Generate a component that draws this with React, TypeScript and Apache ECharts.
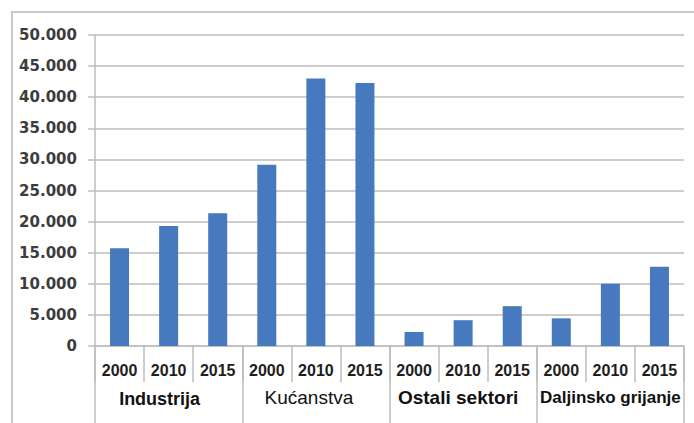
import React, { useEffect, useRef } from "react";
import * as echarts from "echarts";

const years = ["2000", "2010", "2015", "2000", "2010", "2015", "2000", "2010", "2015", "2000", "2010", "2015"];
const groups = ["Industrija", "Kućanstva", "Ostali sektori", "Daljinsko grijanje"];
const values = [15700, 19300, 21350, 29150, 43000, 42300, 2250, 4150, 6400, 4450, 10000, 12750];
const yTicks = { min: 0, max: 50000, interval: 5000 };

export default function App() {
  const ref = useRef<HTMLDivElement>(null);
  useEffect(() => {
    if (!ref.current) return;
    const chart = echarts.init(ref.current, undefined, { renderer: "svg" });
    const grey = "#bdbdbd";
    chart.setOption({
      animation: false,
      backgroundColor: "#ffffff",
      grid: { left: 95, right: 10, top: 35, bottom: 77, containLabel: false },
      graphic: [
        {
          type: "rect",
          shape: { x: 12, y: 12, width: 700, height: 430 },
          style: { fill: "none", stroke: "#c8c8c8", lineWidth: 2 },
          silent: true,
        },
      ],
      xAxis: [
        {
          type: "category",
          data: years,
          position: "bottom",
          axisLine: { show: true, lineStyle: { color: grey, width: 1.5 } },
          axisTick: { show: true, interval: 0, length: 36, lineStyle: { color: grey, width: 1.5 } },
          axisLabel: {
            interval: 0,
            margin: 16,
            fontFamily: "Liberation Sans",
            fontWeight: "bold",
            fontSize: 16,
            lineHeight: 16,
            color: "#1e1e1e",
          },
        },
        {
          type: "category",
          data: groups,
          position: "bottom",
          axisLine: { show: false },
          axisTick: { show: true, interval: 0, length: 78, lineStyle: { color: grey, width: 1.5 } },
          axisLabel: {
            interval: 0,
            margin: 42,
            fontFamily: "Liberation Sans",
            lineHeight: 19,
            color: "#111111",
            formatter: (v: string) => {
              if (v === "Industrija") return "{i|" + v + "}";
              if (v === "Kućanstva") return "{r|" + v + "}";
              if (v === "Ostali sektori") return "{o|" + v + "}";
              return "{d|" + v + "}";
            },
            rich: {
              i: { fontFamily: "Liberation Sans", fontSize: 18, fontWeight: "bold", color: "#111111", padding: [3, 18, 0, 0] },
              r: { fontFamily: "Liberation Sans", fontSize: 19, fontWeight: "normal", color: "#111111", padding: [0, 14, 0, 0] },
              o: { fontFamily: "Liberation Sans", fontSize: 19, fontWeight: "bold", color: "#111111", padding: [0, 10, 0, 0] },
              d: { fontFamily: "Liberation Sans", fontSize: 17, fontWeight: "bold", color: "#111111" },
            },
          },
        },
      ],
      yAxis: {
        type: "value",
        min: yTicks.min,
        max: yTicks.max,
        interval: yTicks.interval,
        axisLine: { show: true, lineStyle: { color: grey, width: 1.5 } },
        axisTick: { show: true, length: 7, lineStyle: { color: grey, width: 1.5 } },
        splitLine: { show: true, lineStyle: { color: grey, width: 1.5 } },
        axisLabel: {
          margin: 18,
          fontFamily: "DejaVu Sans",
          fontWeight: "bold",
          fontSize: 15,
          color: "#3c3c3c",
          formatter: (v: number) => (v === 0 ? "0" : (v / 1000).toFixed(3)),
        },
      },
      series: [
        {
          type: "bar",
          xAxisIndex: 0,
          data: values,
          barWidth: 19,
          itemStyle: { color: "#4679bd" },
        },
      ],
    });
    return () => chart.dispose();
  }, []);
  return (
    <div
      ref={ref}
      style={{ position: "fixed", left: 0, top: 0, width: 694, height: 423, background: "#fff" }}
    />
  );
}
